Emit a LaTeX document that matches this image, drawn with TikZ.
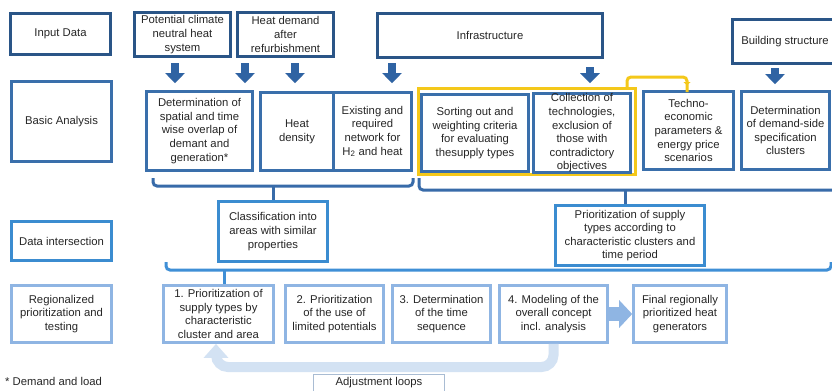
\documentclass[tikz,border=0pt]{standalone}
\usepackage{fontspec}
\setmainfont{Liberation Sans}
\usetikzlibrary{arrows.meta,calc}
\definecolor{inputc}{HTML}{2A5587}
\definecolor{basicc}{HTML}{3A6FAB}
\definecolor{arrowc}{HTML}{2F63A3}
\definecolor{brAc}{HTML}{386BA9}
\definecolor{dic}{HTML}{3B8CD0}
\definecolor{brCc}{HTML}{3F8FD6}
\definecolor{rpc}{HTML}{8FB5E3}
\definecolor{bandc}{HTML}{D3E2F3}
\definecolor{yelc}{HTML}{F4C81A}
\definecolor{adjc}{HTML}{A9BCD3}
\definecolor{txtc}{HTML}{262626}
\newcommand\myfs{\fontsize{11.3bp}{13.6bp}\selectfont}
\tikzset{
  basebox/.style={draw, line width=3bp, fill=white, align=center, inner sep=0pt, font=\myfs, text=txtc},
  inbox/.style={basebox, draw=inputc},
  babox/.style={basebox, draw=basicc},
  dibox/.style={basebox, draw=dic},
  rpbox/.style={basebox, draw=rpc},
  blockarr/.style={draw=arrowc, line width=8bp, -{Triangle[width=19bp,length=10bp]}},
  lbarr/.style={draw=rpc, line width=14bp, -{Triangle[width=27bp,length=13bp]}},
  brA/.style={draw=brAc, line width=3bp, rounded corners=4bp},
  brC/.style={draw=brCc, line width=3bp, rounded corners=4bp},
  yel/.style={draw=yelc, line width=3bp},
}
\begin{document}
\begin{tikzpicture}[x=1bp,y=-1bp]
\useasboundingbox (0,0) rectangle (832,390);
\fill[white] (0,0) rectangle (832,390);
% ---- Input row
\node[inbox, minimum width=100, minimum height=41] (inputlbl) at (60.5,34) {Input Data};
\node[inbox, minimum width=96, minimum height=44] (potential) at (182.5,34.5) {Potential climate\\neutral heat\\system};
\node[inbox, minimum width=96, minimum height=44] (heatdem) at (285.5,34.5) {Heat demand\\after\\refurbishment};
\node[inbox, minimum width=225, minimum height=44] (infra) at (490,35.5) {Infrastructure};
\node[inbox, minimum width=105, minimum height=44] (building) at (785,41.5) {Building structure};
% ---- Basic analysis row
\node[babox, minimum width=100, minimum height=80] (basiclbl) at (61.5,121.5) {Basic Analysis};
\node[babox, minimum width=106, minimum height=79] (overlap) at (199.5,131) {Determination of\\spatial and time\\wise overlap of\\demant and\\generation*};
\node[babox, minimum width=73, minimum height=78] (heatdens) at (297,131.5) {Heat\\density};
\node[babox, minimum width=78, minimum height=78] (existing) at (372.5,131.5) {Existing and\\required\\network for\\H\textsubscript{2} and heat};
\node[draw=yelc, line width=3bp, minimum width=217, minimum height=86, inner sep=0pt] (yellowbox) at (527,131.5) {};
\node[babox, minimum width=107, minimum height=77] (sorting) at (475,133) {Sorting out and\\weighting criteria\\for evaluating\\thesupply types};
\node[babox, minimum width=97, minimum height=77, fill=none] (collection) at (582,133) {Collection of\\technologies,\\exclusion of\\those with\\contradictory\\objectives};
\node[babox, minimum width=90, minimum height=78] (techno) at (688.5,130.5) {Techno-\\economic\\parameters \&\\energy price\\scenarios};
\node[babox, minimum width=88, minimum height=78] (demandside) at (785.5,130.5) {Determination\\of demand-side\\specification\\clusters};
% ---- input arrows
\coordinate (a1) at (175,63);
\coordinate (a2) at (245,63);
\coordinate (a3) at (295,63);
\coordinate (a4) at (392,63);
\coordinate (a5) at (590,67);
\coordinate (a6) at (775,68);
\draw[blockarr, shorten >=7bp] (a1) -- (a1 |- overlap.north);
\draw[blockarr, shorten >=7bp] (a2) -- (a2 |- overlap.north);
\draw[blockarr, shorten >=8bp] (a3) -- (a3 |- heatdens.north);
\draw[blockarr, shorten >=8bp] (a4) -- (a4 |- existing.north);
\draw[blockarr, shorten >=9bp] (a5) -- (a5 |- collection.north);
\draw[blockarr, shorten >=6bp] (a6) -- (a6 |- demandside.north);
% ---- yellow connector
\coordinate (y1) at (627,77);
\coordinate (y2) at (687,77);
\draw[yel, rounded corners=4bp] (y1 |- yellowbox.north) -- (y1) -- (y2) -- ([yshift=-2bp]y2 |- techno.north);
\draw[draw=none, fill=yelc] ($(y2 |- techno.north)+(-3.5,-8)$) -- ($(y2 |- techno.north)+(3.5,-8)$) -- ($(y2 |- techno.north)+(0,-5)$) -- cycle;
% ---- Data intersection row
\node[dibox, minimum width=100, minimum height=39] (dilbl) at (61.5,241) {Data intersection};
\node[dibox, minimum width=109, minimum height=60] (classif) at (273,231.5) {Classification into\\areas with similar\\properties};
\node[dibox, minimum width=149, minimum height=60] (prio) at (630,235.5) {Prioritization of supply\\types according to\\characteristic clusters and\\time period};
% ---- brackets
\draw[brA] (153,178) -- (153,186) -- (413,186) -- (413,178);
\coordinate (sA) at (273,186);
\draw[draw=brAc, line width=3bp] (sA) -- (classif.north);
\draw[brA] (419,178) -- (419,190) -- (840,190);
\coordinate (sB) at (625,190);
\draw[draw=brAc, line width=3bp] (sB) -- (sB |- prio.north);
% ---- Regionalized row
\node[rpbox, minimum width=100, minimum height=57] (rplbl) at (61.5,314) {Regionalized\\prioritization and\\testing};
\node[rpbox, minimum width=110, minimum height=57] (box1) at (218.5,314) {1. Prioritization of\\supply types by\\characteristic\\cluster and area};
\node[rpbox, minimum width=98, minimum height=57] (box2) at (334.5,314) {2. Prioritization\\of the use of\\limited potentials};
\node[rpbox, minimum width=98, minimum height=57] (box3) at (441.5,314) {3. Determination\\of the time\\sequence};
\node[rpbox, minimum width=108, minimum height=57] (box4) at (553.5,314) {4. Modeling of the\\overall concept\\incl. analysis};
\node[rpbox, minimum width=93, minimum height=57] (final) at (680,314) {Final regionally\\prioritized heat\\generators};
\draw[brC] (166,262) -- (166,270) -- (831,270) -- (831,262);
\coordinate (sC) at (224,270);
\draw[draw=brCc, line width=3bp] (sC) -- (sC |- box1.north);
\draw[lbarr] (box4.east) -- (final.west);
% ---- adjustment loop
\coordinate (l1) at (553.5,367);
\coordinate (l2) at (216,367);
\draw[draw=bandc, line width=10bp, rounded corners=12bp, -{Triangle[width=24bp,length=14bp]}] (box4.south) -- (l1) -- (l2) -- (l2 |- box1.south);
\node[draw=adjc, line width=1bp, fill=white, minimum width=131, minimum height=17, inner sep=0pt, font=\myfs, text=txtc] (adj) at (379,383) {Adjustment loops};
\node[anchor=west, inner sep=0pt, font=\myfs, text=txtc] (note) at (5,381) {* Demand and load};
\end{tikzpicture}
\end{document}
